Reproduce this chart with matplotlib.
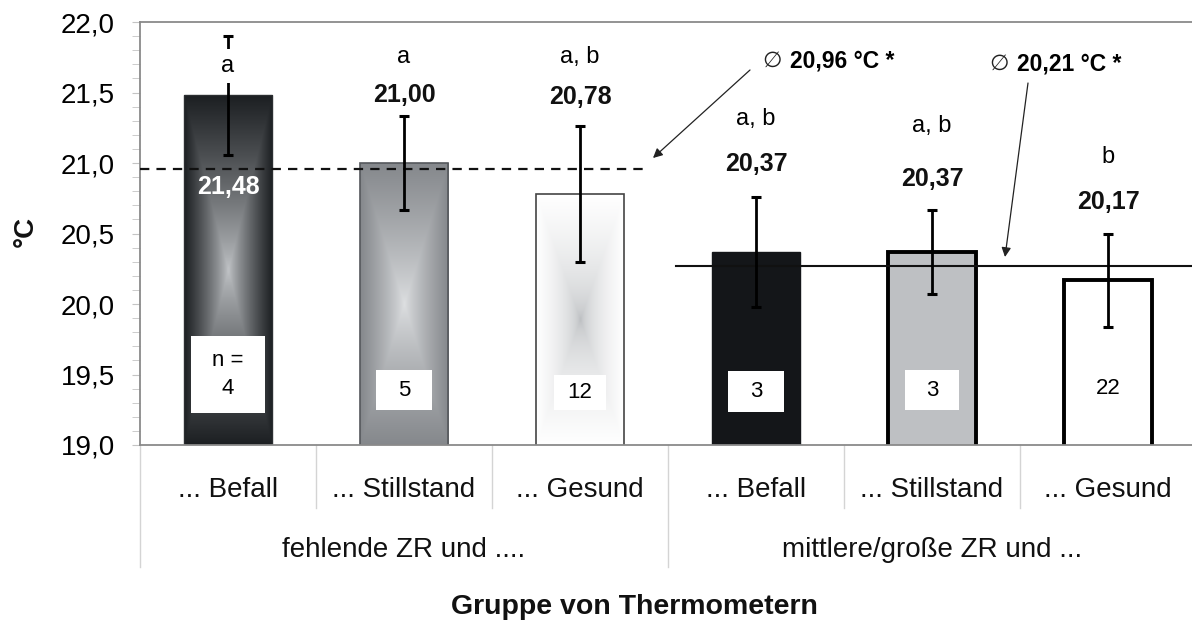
import matplotlib
matplotlib.use("Agg")
import matplotlib.pyplot as plt
import numpy as np

from   matplotlib.patches import Rectangle
from   matplotlib.transforms import blended_transform_factory

plt.rcParams["font.family"] = ["Liberation Sans", "DejaVu Sans"]

# --- data ---
CATEGORIES = ["... Befall", "... Stillstand", "... Gesund",
              "... Befall", "... Stillstand", "... Gesund"]
GROUPS     = ["fehlende ZR und ....", "mittlere/große ZR und ..."]
MEANS      = [21.48, 21.00, 20.78, 20.37, 20.37, 20.17]
ERRORS     = [0.42, 0.33, 0.48, 0.39, 0.30, 0.33]
VALUE_TEXT = ["21,48", "21,00", "20,78", "20,37", "20,37", "20,17"]
LETTERS    = ["a", "a", "a, b", "a, b", "a, b", "b"]
N_TEXT     = ["n =\n4", "5", "12", "3", "3", "22"]
GROUP_MEAN_LINE = [20.96, 20.27]
GROUP_MEAN_TEXT = ["20,96 °C *", "20,21 °C *"]
YTICKS     = [19.0, 19.5, 20.0, 20.5, 21.0, 21.5, 22.0]

# --- layout / style ---
FIG_W, FIG_H = 1192, 623
AX_L, AX_R, AX_T, AX_B = 140, 1196, 22, 445
BAR_WIDTH = 0.505

# (edge colour, centre colour, exponent) for the gradient bars, None = flat
GRADIENTS = [
    ("#1c1f22", "#c3c6c9", 0.8),
    ("#85888c", "#dfe1e3", 0.8),
    ("#ffffff", "#b4b7ba", 0.45),
    None, None, None,
]
FACES  = ["none", "none", "none", "#141619", "#bec0c3", "white"]
EDGES  = ["#2b2e31", "#55585c", "#444444", "#141619", "black", "black"]
EDGE_W = [1.0, 1.2, 1.2, 1.0, 2.8, 2.8]

LETTER_Y = [21.69, 21.75, 21.75, 21.31, 21.26, 21.04]
LETTER_PAD = [4.5, 1.5, 1.5, 1.5, 1.5, 1.5]
VALUE_Y  = [20.83, 21.48, 21.47, 20.99, 20.89, 20.72]
NBOX_Y   = [19.50, 19.39, 19.37, 19.38, 19.39, 19.40]
NBOX_W   = [0.42, 0.32, 0.30, 0.32, 0.31, 0.0]
NBOX_H   = [0.54, 0.28, 0.25, 0.29, 0.28, 0.0]


def px_x(px):
    return (px - AX_L) / (AX_R - AX_L) * 6 - 0.5


def px_y(py):
    return 19 + (AX_B - py) / (AX_B - AX_T) * 3


def main() -> None:
    fig = plt.figure(figsize=[FIG_W / 100, FIG_H / 100], dpi=100)
    axes = fig.add_axes([AX_L / FIG_W, 1 - AX_B / FIG_H,
                         (AX_R - AX_L) / FIG_W, (AX_B - AX_T) / FIG_H])

    x = np.arange(len(MEANS))
    draw_bars(axes, x)
    draw_mean_lines(axes)
    draw_labels(axes, x)
    style_axes(fig, axes, x)

    fig.savefig("out.png", dpi=100)


def gradient_image(edge, centre, power, nx=80, ny=300):
    u = np.abs(np.linspace(-1, 1, nx))[None, :]
    v = np.abs(np.linspace(-1, 1, ny))[:, None]
    t = np.maximum(u, v) ** power
    e = np.array(matplotlib.colors.to_rgb(edge))
    c = np.array(matplotlib.colors.to_rgb(centre))
    return c[None, None, :] + (e - c)[None, None, :] * t[:, :, None]


def draw_bars(axes, x):
    for i, val in enumerate(MEANS):
        if GRADIENTS[i] is not None:
            img = gradient_image(*GRADIENTS[i])
            axes.imshow(img, extent=(x[i] - BAR_WIDTH / 2, x[i] + BAR_WIDTH / 2, 19.0, val),
                        aspect="auto", interpolation="bilinear", zorder=1)

    axes.bar(x, MEANS, width=BAR_WIDTH, color=FACES, edgecolor=EDGES,
             linewidth=EDGE_W, zorder=2)
    axes.errorbar(x, MEANS, yerr=ERRORS, fmt="none", ecolor="black",
                  elinewidth=2.0, capsize=3.5, capthick=2.2, zorder=4)

    for i in range(len(MEANS)):
        if NBOX_W[i] > 0:
            axes.add_patch(Rectangle((x[i] - NBOX_W[i] / 2, NBOX_Y[i] - NBOX_H[i] / 2),
                                     NBOX_W[i], NBOX_H[i], facecolor="white",
                                     edgecolor="none", zorder=5))
        axes.text(x[i], NBOX_Y[i], N_TEXT[i], ha="center", va="center",
                  fontsize=16, linespacing=1.45, zorder=6)


def draw_mean_lines(axes):
    axes.plot([-0.5, px_x(647)], [GROUP_MEAN_LINE[0]] * 2, color="#111111",
              linewidth=1.6, dashes=(4.2, 3.2), zorder=3)
    axes.plot([px_x(676), 5.5], [GROUP_MEAN_LINE[1]] * 2, color="#111111",
              linewidth=1.5, zorder=3, clip_on=False)

    arrows = [((750, 70), (653, 158)), ((1028, 83), (1005, 257))]
    sym_x = [772, 999]
    txt_x = [790, 1017]
    txt_y = [61, 64]
    for i in range(2):
        (x0, y0), (x1, y1) = arrows[i]
        axes.annotate("", xy=(px_x(x1), px_y(y1)), xytext=(px_x(x0), px_y(y0)),
                      arrowprops=dict(arrowstyle="-|>", color="#222222", lw=0.9,
                                      mutation_scale=14, shrinkA=0, shrinkB=0),
                      zorder=6)
        axes.text(px_x(sym_x[i]), px_y(txt_y[i]), "\u2205", ha="center", va="center",
                  fontsize=16, family=["DejaVu Sans"], color="#222222", zorder=6)
        axes.text(px_x(txt_x[i]), px_y(txt_y[i]), GROUP_MEAN_TEXT[i], ha="left",
                  va="center", fontsize=16.5, fontweight="bold", zorder=6)


def draw_labels(axes, x):
    for i in range(len(MEANS)):
        axes.text(x[i], LETTER_Y[i], LETTERS[i], ha="center", va="center",
                  fontsize=17, zorder=7,
                  bbox=dict(facecolor="white", edgecolor="none", pad=LETTER_PAD[i]))
        axes.text(x[i], VALUE_Y[i], VALUE_TEXT[i], ha="center", va="center",
                  fontsize=18, fontweight="bold",
                  color="white" if i == 0 else "#111111", zorder=7)


def style_axes(fig, axes, x):
    axes.set_xlim(-0.5, 5.5)
    axes.set_ylim(19.0, 22.0)

    axes.set_yticks(YTICKS)
    axes.set_yticklabels([f"{t:.1f}".replace(".", ",") for t in YTICKS], fontsize=20)
    axes.set_yticks(np.arange(19.0, 22.01, 0.1), minor=True)
    axes.tick_params(axis="y", which="both", length=6, color="#c4c4c4", pad=12)
    axes.set_xticks([])

    for side in ["top", "bottom", "left"]:
        axes.spines[side].set_color("#8a8a8a")
        axes.spines[side].set_linewidth(1.3)
    axes.spines["right"].set_visible(False)

    trans = blended_transform_factory(axes.transData, axes.transAxes)
    for i, name in enumerate(CATEGORIES):
        axes.text(x[i], -0.106, name, transform=trans, ha="center", va="center",
                  fontsize=20, color="#111111")
    for b in [0.5, 1.5, 3.5, 4.5]:
        axes.plot([b, b], [0, -0.149], transform=trans, color="#d4d4d4",
                  linewidth=1.0, clip_on=False)
    for b in [-0.5, 2.5, 5.5]:
        axes.plot([b, b], [0, -0.288], transform=trans, color="#d4d4d4",
                  linewidth=1.0, clip_on=False)
    for g, name in enumerate(GROUPS):
        axes.text(1 + 3 * g, -0.248, name, transform=trans, ha="center",
                  va="center", fontsize=20, color="#111111")

    fig.text(634 / FIG_W, 1 - 607 / FIG_H, "Gruppe von Thermometern",
             ha="center", va="center", fontsize=20.5, fontweight="bold", color="#111111")
    fig.text(26 / FIG_W, 1 - 231 / FIG_H, "°C", ha="center", va="center",
             rotation=90, fontsize=20, fontweight="bold", color="#111111")


if __name__ == '__main__':
    main()
